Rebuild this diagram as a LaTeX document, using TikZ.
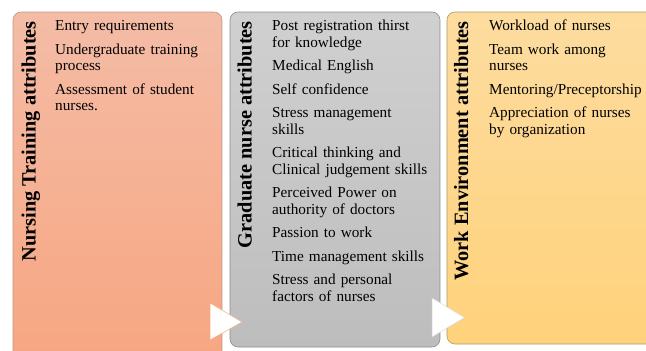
\documentclass[tikz,border=0pt]{standalone}
\usepackage{fontspec}
\setmainfont{Liberation Serif}

\definecolor{salmonTop}{HTML}{F4BCA6}
\definecolor{salmonBot}{HTML}{F7A580}
\definecolor{salmonLine}{HTML}{BF9688}
\definecolor{greyTop}{HTML}{D0D0D0}
\definecolor{greyBot}{HTML}{BDBDBD}
\definecolor{greyLine}{HTML}{8C8C8C}
\definecolor{sandTop}{HTML}{FDDC9F}
\definecolor{sandBot}{HTML}{FFD27B}
\definecolor{sandLine}{HTML}{B09862}
\definecolor{chevronLine}{HTML}{F4B183}

\begin{document}
\begin{tikzpicture}[x=1bp,y=-1bp,
  panel/.style={rounded corners=8bp, line width=0.6bp, anchor=north west,
    inner sep=0pt, outer sep=0pt},
  heading/.style={rotate=90, anchor=base east, inner sep=0pt,
    font=\fontsize{20.4}{24}\selectfont\bfseries},
  items/.style={anchor=base west, inner sep=0pt, align=left, text width=200bp,
    font=\fontsize{15.3}{16.8}\selectfont},
  chevron/.style={fill=white, line width=0.5bp, line join=miter}
]
\useasboundingbox (0,0) rectangle (646,350);
\begin{scope}
\clip (0,0) rectangle (646,350);

% three columns
\node[panel, draw=salmonLine, top color=salmonTop, bottom color=salmonBot,
  minimum width=209bp, minimum height=360bp] (p1) at (13,12) {};
\node[panel, draw=greyLine, top color=greyTop, bottom color=greyBot,
  minimum width=210bp, minimum height=335bp] (p2) at (230,12) {};
\node[panel, draw=sandLine, top color=sandTop, bottom color=sandBot,
  minimum width=230bp, minimum height=332bp] (p3) at (447,12) {};

% column headings, read bottom to top
\node[heading] (h1) at (35.5,21) {Nursing Training attributes};
\node[heading] (h2) at (251.5,21) {Graduate nurse attributes};
\node[heading] (h3) at (468,21) {Work Environment attributes};

% column contents
\node[items] (l1) at (55,30.7) {Entry requirements\\[6.6bp]
  Undergraduate training\\process\\[6.6bp]
  Assessment of student\\nurses.};
\node[items] (l2) at (272,30.7) {Post registration thirst\\for knowledge\\[6.6bp]
  Medical English\\[6.6bp]
  Self confidence\\[6.6bp]
  Stress management\\skills\\[6.6bp]
  Critical thinking and\\Clinical judgement skills\\[6.6bp]
  Perceived Power on\\authority of doctors\\[6.6bp]
  Passion to work\\[6.6bp]
  Time management skills\\[6.6bp]
  Stress and personal\\factors of nurses};
\node[items] (l3) at (489,30.7) {Workload of nurses\\[6.6bp]
  Team work among\\nurses\\[6.6bp]
  Mentoring/Preceptorship\\[6.6bp]
  Appreciation of nurses\\by organization};

% flow markers between the columns
\draw[chevron, draw=chevronLine] (210,303) -- (242,322) -- (210,340) -- cycle;
\draw[chevron, draw=white!85!black] (432,298) -- (464.5,317.5) -- (432,337) -- cycle;
\end{scope}
\end{tikzpicture}
\end{document}
